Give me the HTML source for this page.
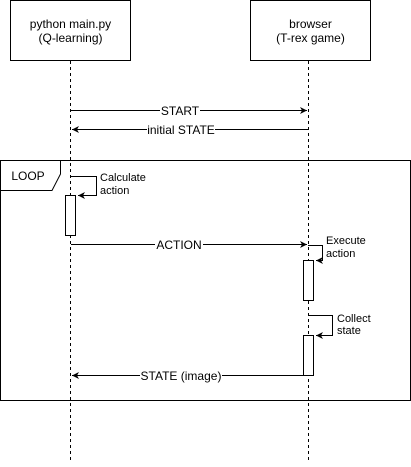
<!DOCTYPE html>
<html><head><style>body{margin:0;background:#fff}</style></head><body>
<svg width="411" height="462" xmlns="http://www.w3.org/2000/svg" font-family="Liberation Sans, sans-serif" font-size="11">
<defs><marker id="a" markerWidth="8" markerHeight="8" refX="7" refY="4" orient="auto" markerUnits="userSpaceOnUse"><path d="M0,0.5 L7,4 L0,7.5 L2,4 Z" fill="#000"/></marker></defs>
<rect x="10.5" y="0.5" width="120" height="60" fill="#fff" stroke="#000"/>
<rect x="250.5" y="0.5" width="120" height="60" fill="#fff" stroke="#000"/>
<text x="70.5" y="28" text-anchor="middle" font-size="12">python main.py</text>
<text x="70.5" y="42" text-anchor="middle" font-size="12">(Q-learning)</text>
<text x="310.5" y="28" text-anchor="middle" font-size="12">browser</text>
<text x="310.5" y="42" text-anchor="middle" font-size="12">(T-rex game)</text>
<line x1="70.5" y1="61" x2="70.5" y2="462" stroke="#000" stroke-dasharray="3,3"/>
<line x1="308.5" y1="61" x2="308.5" y2="462" stroke="#000" stroke-dasharray="3,3"/>
<line x1="71" y1="110.5" x2="307" y2="110.5" stroke="#000" marker-end="url(#a)"/>
<rect x="160" y="103" width="40" height="14" fill="#fff"/><text x="180" y="115" text-anchor="middle" font-size="12">START</text>
<line x1="308" y1="129.5" x2="72" y2="129.5" stroke="#000" marker-end="url(#a)"/>
<rect x="147" y="122" width="68" height="14" fill="#fff"/><text x="181" y="134" text-anchor="middle" font-size="12">initial STATE</text>
<rect x="0.5" y="160.5" width="410" height="240" fill="none" stroke="#000"/>
<path d="M0.5,190.5 H52 L60.5,174 V160.5" fill="none" stroke="#000"/>
<text x="28" y="180" text-anchor="middle" font-size="12">LOOP</text>
<path d="M71,176.5 H96.5 V195.5 H78" fill="none" stroke="#000" marker-end="url(#a)"/>
<text x="100" y="181">Calculate</text><text x="100" y="194">action</text>
<rect x="65.5" y="195.5" width="10" height="40" fill="#fff" stroke="#000"/>
<line x1="71" y1="244.5" x2="307" y2="244.5" stroke="#000" marker-end="url(#a)"/>
<rect x="155" y="237" width="48" height="14" fill="#fff"/><text x="179" y="249" text-anchor="middle" font-size="12">ACTION</text>
<path d="M308,245.5 H322.5 V260.5 H316" fill="none" stroke="#000" marker-end="url(#a)"/>
<text x="326" y="244">Execute</text><text x="326" y="257">action</text>
<rect x="303.5" y="260.5" width="10" height="40" fill="#fff" stroke="#000"/>
<path d="M308,315.5 H332.5 V335.5 H316" fill="none" stroke="#000" marker-end="url(#a)"/>
<text x="337" y="322">Collect</text><text x="337" y="334">state</text>
<rect x="303.5" y="335.5" width="10" height="40" fill="#fff" stroke="#000"/>
<line x1="303" y1="375.5" x2="72" y2="375.5" stroke="#000" marker-end="url(#a)"/>
<rect x="140" y="368" width="82" height="14" fill="#fff"/><text x="181" y="380" text-anchor="middle" font-size="12">STATE (image)</text>
</svg>
</body></html>
